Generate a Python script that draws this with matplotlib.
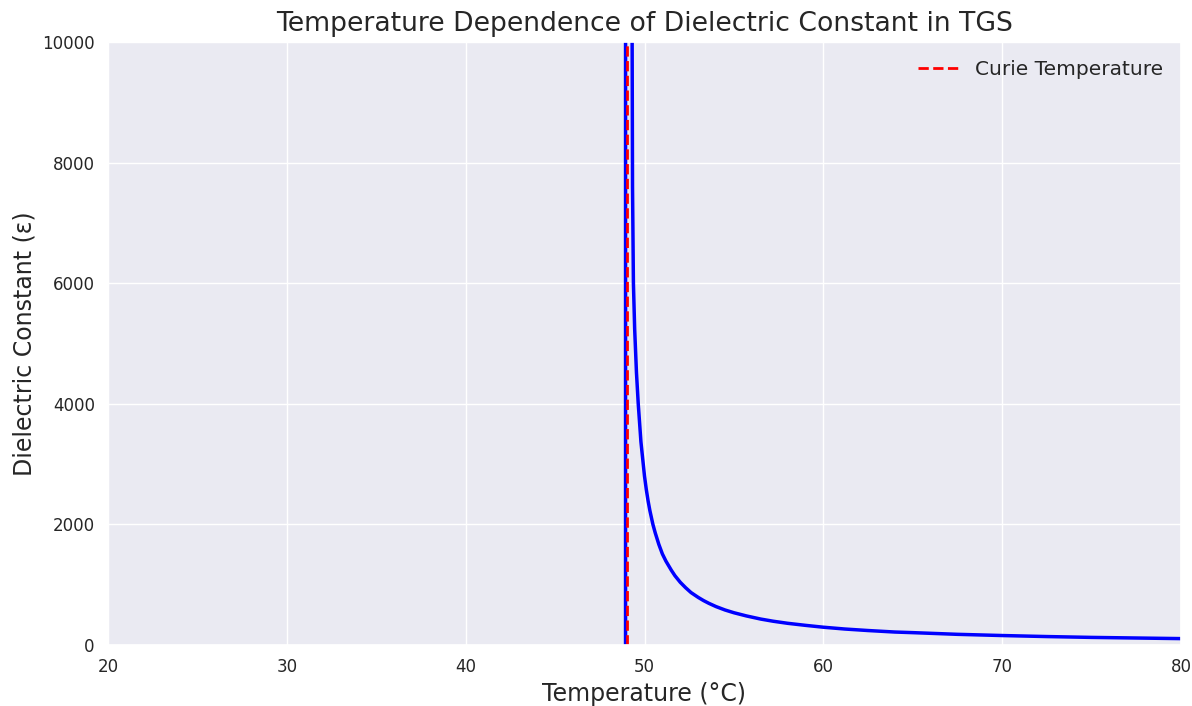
import matplotlib
matplotlib.use("Agg")
import matplotlib.pyplot as plt
import seaborn as sns

# Temperatures (°C) and dielectric constant values
temperature = [20, 30, 40, 45, 48.90, 48.98,
               49.30, 49.33, 49.38, 49.45, 49.55, 49.65, 49.80, 50.00, 50.10,
               50.20, 50.30, 50.47, 50.60, 50.80, 51.00, 51.20, 51.50, 51.70,
               52.00, 52.30, 52.60, 53.00, 53.30, 53.60, 54.00, 54.50, 55.00,
               55.70, 56.50, 57.20, 58.00, 59.00, 60.00, 61.20, 62.50, 64.00,
               65.00, 67.50, 70.00, 72.50, 75.00, 77.50, 80.00]
dielectric = [-115, -170, -370, -800, -400000, 400000,
              11000, 7600, 6000, 5240, 4520, 4000, 3370, 2800, 2580,
              2390, 2230, 2000, 1860, 1670, 1510, 1390, 1240, 1150,
              1040, 950, 870, 790, 737, 691, 637, 581, 535,
              482, 430, 394, 360, 326, 295, 265, 240, 215,
              205, 177, 157, 140, 126, 116, 106]
curie_temp = 49
curie_label = "Curie Temperature"

title = "Temperature Dependence of Dielectric Constant in TGS"
xlabel = "Temperature (°C)"
ylabel = "Dielectric Constant (ε)"
xticks = [20, 30, 40, 50, 60, 70, 80]
yticks = [0, 2000, 4000, 6000, 8000, 10000]

sns.set_theme(style="darkgrid")
plt.rcParams['font.family'] = ['DejaVu Sans']

fig = plt.figure(figsize=(11.92, 7.06), dpi=100)
ax = fig.add_axes([108/1192, (706-645)/706, (1181-108)/1192, (645-42)/706])

ax.plot(temperature, dielectric, color="blue", linewidth=2.5)
ax.axvline(curie_temp, color="red", linestyle="--", linewidth=2, label=curie_label)

ax.set_xlim(20, 80)
ax.set_ylim(0, 10000)
ax.set_xticks(xticks)
ax.set_yticks(yticks)
ax.tick_params(labelsize=12)
ax.set_title(title, fontsize=19.2, pad=8)
ax.set_xlabel(xlabel, fontsize=17)
ax.set_ylabel(ylabel, fontsize=17)
ax.legend(loc="upper right", fontsize=14.5, frameon=False)

fig.savefig("out.png", dpi=100)
